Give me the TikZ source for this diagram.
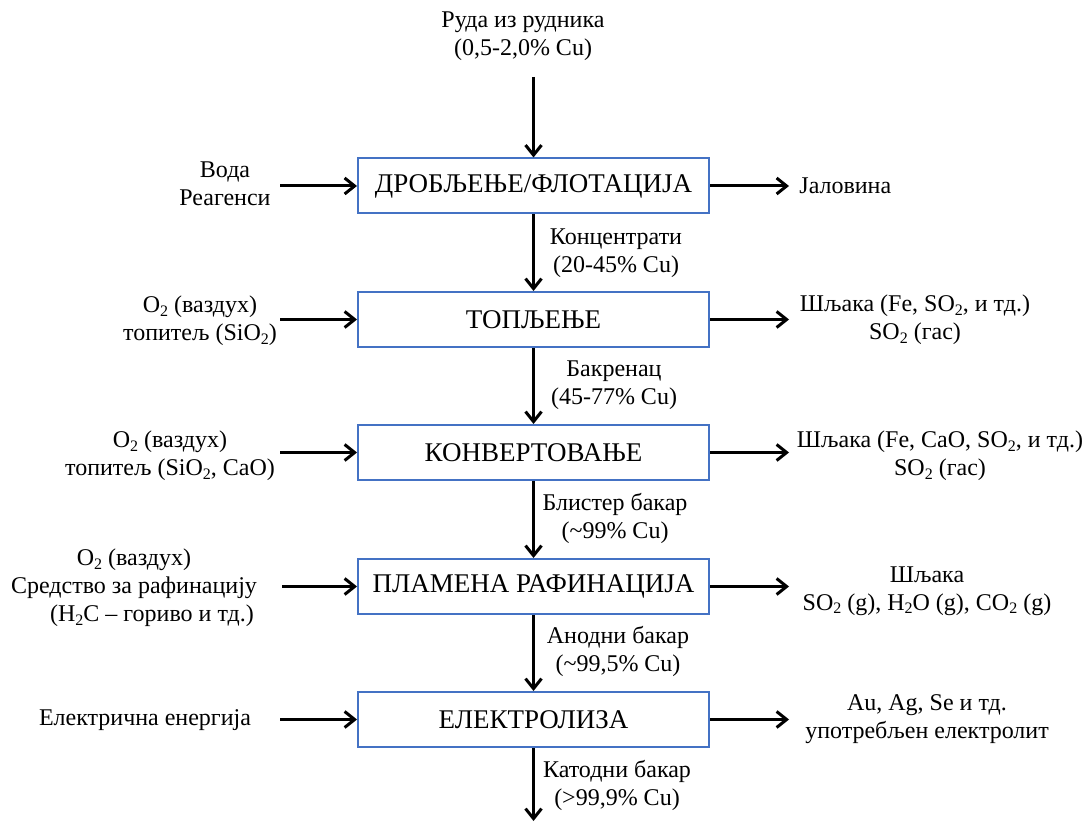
\documentclass[tikz,border=0pt]{standalone}
\usepackage{fontspec}
\setmainfont[Script=Cyrillic]{Liberation Serif}
\usetikzlibrary{arrows.meta, positioning}
\definecolor{boxblue}{HTML}{4472C4}
\definecolor{inkblack}{HTML}{000000}
\newcommand{\lowsub}[1]{\raisebox{-0.3ex}{\fontsize{8}{8}\selectfont #1}}
\newcommand{\stagebox}[3]{%
  \node[draw=boxblue, line width=1pt, fill=white, minimum width=175.5pt,
        minimum height=27.5pt, inner sep=0pt, text=inkblack,
        font=\fontsize{13.5}{16}\selectfont] (#1) at (533.5,#2) {#3};}

\begin{document}
\begin{tikzpicture}[x=0.5pt, y=-0.5pt, font=\fontsize{12}{14}\selectfont,
  flow/.style={-{Straight Barb[length=5pt, width=8pt]}, line width=1.5pt},
  note/.style={align=center, inner sep=0pt}]
  \useasboundingbox (0,0) rectangle (1085,822);

  % stages
  \stagebox{b1}{186}{ДРОБЉЕЊЕ/ФЛОТАЦИЈА}
  \stagebox{b2}{319.5}{ТОПЉЕЊЕ}
  \stagebox{b3}{452.5}{КОНВЕРТОВАЊЕ}
  \stagebox{b4}{586.5}{ПЛАМЕНА РАФИНАЦИЈА}
  \stagebox{b5}{719.5}{ЕЛЕКТРОЛИЗА}

  % feed and product
  \node[note] (ore) at (523,36) {Руда из рудника\\(0,5-2,0\% Cu)};
  \coordinate (cathode) at (533.5,821);

  % products between stages
  \node[note] (p1) at (616,253) {Концентрати\\(20-45\% Cu)};
  \node[note] (p2) at (614,385) {Бакренац\\(45-77\% Cu)};
  \node[note] (p3) at (615,518) {Блистер бакар\\(\textasciitilde99\% Cu)};
  \node[note] (p4) at (618,651) {Анодни бакар\\(\textasciitilde99,5\% Cu)};
  \node[note] (p5) at (617,785) {Катодни бакар\\(>99,9\% Cu)};

  % inputs
  \node[note] (in1) at (225,184) {Вода\\Реагенси};
  \node[note] (in2) at (200,321) {O\lowsub{2} (ваздух)\\топитељ (SiO\lowsub{2})};
  \node[note] (in3) at (170,456) {O\lowsub{2} (ваздух)\\топитељ (SiO\lowsub{2}, CaO)};
  \node[note] (in4) at (134,588) {O\lowsub{2} (ваздух)\hspace{19pt}\\
    Средство за рафинацију\\\hspace{18pt}(H\lowsub{2}C -- гориво и тд.)};
  \node[note] (in5) at (145,720) {Електрична енергија};

  % outputs
  \node[note, anchor=west] (out1) at (799,186) {Јаловина};
  \node[note] (out2) at (915,320) {Шљака (Fe, SO\lowsub{2}, и тд.)\\SO\lowsub{2} (гас)};
  \node[note] (out3) at (940,456) {Шљака (Fe, CaO, SO\lowsub{2}, и тд.)\\SO\lowsub{2} (гас)};
  \node[note] (out4) at (927,591) {Шљака\\SO\lowsub{2} (g), H\lowsub{2}O (g), CO\lowsub{2} (g)};
  \node[note] (out5) at (927,719) {Au, Ag, Se и тд.\\употребљен електролит};

  % arrow ends at the sides
  \coordinate (l1) at (280,186);
  \coordinate (l2) at (280,319.5);
  \coordinate (l3) at (280,452.5);
  \coordinate (l4) at (282,586.5);
  \coordinate (l5) at (280,719.5);
  \coordinate (r1) at (789,186);
  \coordinate (r2) at (789,319.5);
  \coordinate (r3) at (789,452.5);
  \coordinate (r4) at (789,586.5);
  \coordinate (r5) at (789,719.5);

  % main line
  \draw[flow] (ore.south -| b1) ++(0,-8pt) -- (b1);
  \draw[flow] (b1) -- (b2);
  \draw[flow] (b2) -- (b3);
  \draw[flow] (b3) -- (b4);
  \draw[flow] (b4) -- (b5);
  \draw[flow] (b5) -- (cathode);

  % side streams
  \foreach \i in {1,...,5} {
    \draw[flow] (l\i) -- (b\i);
    \draw[flow] (b\i) -- (r\i);
  }
\end{tikzpicture}
\end{document}
